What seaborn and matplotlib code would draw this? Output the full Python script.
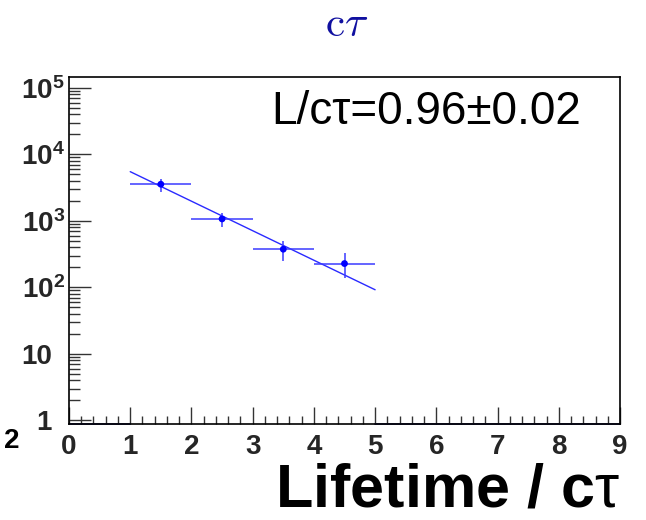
import numpy as np
import pandas as pd
import matplotlib
matplotlib.use("Agg")
import matplotlib.pyplot as plt
import seaborn as sns
from matplotlib.ticker import FixedLocator, FixedFormatter, MultipleLocator, NullFormatter
from matplotlib.transforms import ScaledTranslation

# ---- data ----
bin_centers = [1.5, 2.5, 3.5, 4.5]
bin_halfwidth = [0.5, 0.5, 0.5, 0.5]
counts = [3560, 1070, 375, 228]
err_low = [860, 250, 130, 90]
err_high = [720, 240, 125, 100]
fit_x = [1.0, 5.0]
fit_y = [5500, 92]
empty_bins = [(0.0, 1.0), (5.0, 9.0)]
ytick_vals = [1, 10, 100, 1000, 10000, 100000]
ytick_labels = ["1", "10", r"$\mathbf{10^{2}}$", r"$\mathbf{10^{3}}$", r"$\mathbf{10^{4}}$", r"$\mathbf{10^{5}}$"]
xtick_vals = list(range(0, 10))
title_text = r"$\mathrm{c}\tau$"
xlabel_text = r"Lifetime / c$\mathrm{\tau}$"
fit_text = "L/cτ=0.96±0.02"

sns.set_theme(style="white")
plt.rcParams["font.family"] = ["Liberation Sans", "DejaVu Sans"]
plt.rcParams["mathtext.fontset"] = "custom"
plt.rcParams["mathtext.bf"] = "Liberation Sans:bold"
plt.rcParams["mathtext.rm"] = "Liberation Sans"

fig = plt.figure(figsize=(6.46, 5.2), dpi=100)
ax = fig.add_axes([69/646, 1-424/520, (620-69)/646, (424-77)/520])

df = pd.DataFrame({"x": bin_centers, "y": counts})
ax.errorbar(bin_centers, counts, xerr=bin_halfwidth, yerr=[err_low, err_high],
            fmt="none", ecolor="#3a3aff", elinewidth=1.1, capsize=0, zorder=3)
sns.scatterplot(data=df, x="x", y="y", ax=ax, color="#0000ff", s=24,
                edgecolor="none", zorder=4, legend=False)
sns.lineplot(x=fit_x, y=fit_y, ax=ax, color="#2a2aff", linewidth=1.0, zorder=2)

ax.set_yscale("log")
ax.set_xlim(0, 9)
ax.set_ylim(0.88, 1.46e5)

for (a, b) in empty_bins:
    ax.plot([a, b], [0.885, 0.885], color="#1a1a70", linewidth=1.2, zorder=1,
            clip_on=False)

# ticks
ax.yaxis.set_major_locator(FixedLocator(ytick_vals))
ax.yaxis.set_major_formatter(FixedFormatter(ytick_labels))
minor = [m * 10**e for e in range(0, 5) for m in range(2, 10)]
ax.yaxis.set_minor_locator(FixedLocator(minor))
ax.yaxis.set_minor_formatter(NullFormatter())
ax.xaxis.set_major_locator(FixedLocator(xtick_vals))
ax.xaxis.set_minor_locator(MultipleLocator(0.2))

ax.tick_params(axis="y", which="major", direction="in", length=16, width=1,
               color="#333333", labelsize=20, pad=3, left=True)
ax.tick_params(axis="y", which="minor", direction="in", length=8, width=1,
               color="#333333", left=True)
ax.tick_params(axis="x", which="major", direction="in", length=12, width=1,
               color="#333333", labelsize=20, pad=7, bottom=True)
ax.tick_params(axis="x", which="minor", direction="in", length=6, width=1,
               color="#333333", bottom=True)
for lab in ax.get_xticklabels() + ax.get_yticklabels():
    lab.set_fontweight("bold")

# plain labels (no exponent) sit a little further left, as in the reference
ticks = ax.yaxis.get_major_ticks()
for t in ticks[:2]:
    t.label1.set_transform(t.label1.get_transform() +
                           ScaledTranslation(-13/100, 0, fig.dpi_scale_trans))

for s in ax.spines.values():
    s.set_color("black")
    s.set_linewidth(1.2)

ax.set_xlabel("")
ax.set_ylabel("")

ax.text(0.649, 0.899, fit_text, transform=ax.transAxes, ha="center", va="center",
        fontsize=33, color="black")

fig.text(620/646, 1-506/520, xlabel_text, ha="right", va="baseline",
         fontsize=44, fontweight="bold", color="black")
fig.text(347/646, 1-25/520, title_text, ha="center", va="center",
         fontsize=31, color="#1010a0",
         math_fontfamily="cm")
fig.text(4/646, 1-441/520, "2", ha="left", va="center", fontsize=20,
         fontweight="bold", color="black")

fig.savefig("out.png", dpi=100)
